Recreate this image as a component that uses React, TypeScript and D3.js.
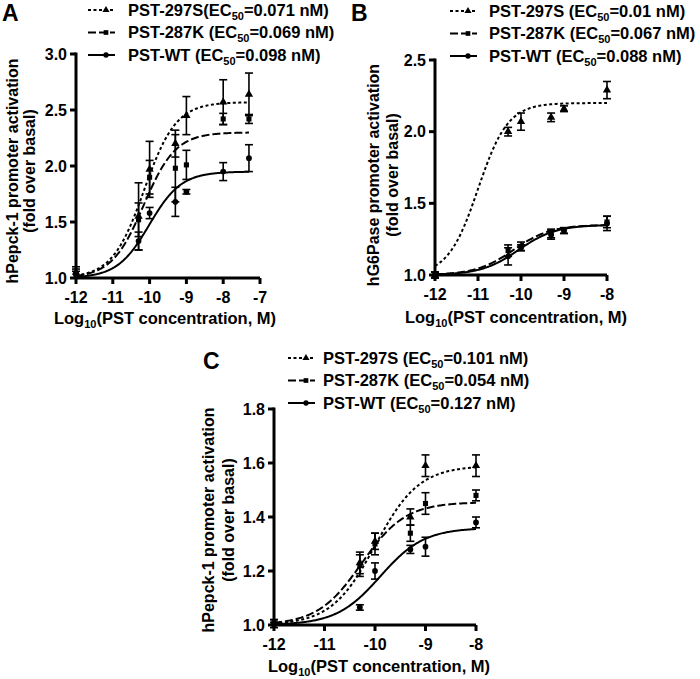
import * as d3 from 'd3';
import React from 'react';

// series, shared by the three panels
const seriesNames = ['PST-297S', 'PST-287K', 'PST-WT'];
const seriesDash = ['3,2.5', '8,3', ''];
const seriesSymbol = [d3.symbolTriangle, d3.symbolSquare, d3.symbolCircle];

// panel A : hPepck-1
const aDoses = [-12, -10.3, -10, -9.3, -9, -8, -7.3];
const a297S = [1.05, 1.55, 1.97, 2.2, 2.45, 2.57, 2.64];
const a297SErr = [0.05, 0.3, 0.25, 0.12, 0.17, 0.2, 0.19];
const a287K = [1.04, 1.52, 1.9, 1.98, 2.01, 2.42, 2.42];
const a287KErr = [0.04, 0.15, 0.15, 0.3, 0.13, 0.05, 0.04];
const aWT = [1.03, 1.33, 1.58, 1.68, 1.77, 1.95, 2.07];
const aWTErr = [0.03, 0.08, 0.05, 0.13, 0.02, 0.08, 0.12];
const aEC50 = ['0.071', '0.069', '0.098'];
const aTop = [2.57, 2.3, 1.95];
const aHill = [1, 1, 1];
const aXTicks = [-12, -11, -10, -9, -8, -7];
const aYTicks = [1.0, 1.5, 2.0, 2.5, 3.0];

// panel B : hG6Pase
const bDoses = [-12, -10.3, -10, -9.3, -9, -8];
const b297S = [1.0, 2.0, 2.07, 2.1, 2.16, 2.29];
const b297SErr = [0.02, 0.03, 0.06, 0.03, 0.02, 0.06];
const b287K = [1.0, 1.17, 1.2, 1.29, 1.31, 1.37];
const b287KErr = [0.02, 0.04, 0.03, 0.03, 0.02, 0.04];
const bWT = [1.0, 1.13, 1.19, 1.28, 1.31, 1.36];
const bWTErr = [0.02, 0.06, 0.02, 0.03, 0.02, 0.05];
const bEC50 = ['0.01', '0.067', '0.088'];
const bTop = [2.2, 1.35, 1.35];
const bHill = [1.25, 1, 1];
const bXTicks = [-12, -11, -10, -9, -8];
const bYTicks = [1.0, 1.5, 2.0, 2.5];

// panel C : hPepck-1
const cDoses = [-12, -10.3, -10, -9.3, -9, -8];
const c297S = [1.01, 1.23, 1.31, 1.4, 1.59, 1.59];
const c297SErr = [0.01, 0.04, 0.03, 0.03, 0.04, 0.04];
const c287K = [1.01, 1.22, 1.3, 1.34, 1.45, 1.48];
const c287KErr = [0.01, 0.04, 0.04, 0.03, 0.04, 0.02];
const cWT = [1.0, 1.065, 1.2, 1.28, 1.29, 1.38];
const cWTErr = [0.01, 0.01, 0.03, 0.015, 0.035, 0.02];
const cEC50 = ['0.101', '0.054', '0.127'];
const cTop = [1.59, 1.455, 1.36];
const cHill = [1, 1, 1];
const cXTicks = [-12, -11, -10, -9, -8];
const cYTicks = [1.0, 1.2, 1.4, 1.6, 1.8];

const FONT = '"Liberation Sans", Arial, sans-serif';

type PanelProps = {
  letter: string;
  letterPos: [number, number];
  frame: { left: number; right: number; top: number; bottom: number };
  xDomain: [number, number];
  yDomain: [number, number];
  xTicks: number[];
  yTicks: number[];
  doses: number[];
  values: number[][];
  errors: number[][];
  ec50: string[];
  tops: number[];
  hills: number[];
  names: string[];
  legend: { lineX: number; textX: number; y: number };
  yLabel: string;
  yLabelX: [number, number];
  yLabelY: number;
  xLabelPos: [number, number];
};

function Panel(p: PanelProps) {
  const x = d3.scaleLinear().domain(p.xDomain).range([p.frame.left, p.frame.right]);
  const y = d3.scaleLinear().domain(p.yDomain).range([p.frame.bottom, p.frame.top]);
  const xMax = p.doses[p.doses.length - 1];

  // 4-parameter logistic fit, bottom = 1
  const curves = p.tops.map((top, i) => {
    const logEC = Math.log10(+p.ec50[i] * 1e-9);
    const pts = d3.range(p.doses[0], xMax + 1e-6, 0.02).map((d) => [
      d,
      1 + (top - 1) / (1 + Math.pow(10, (logEC - d) * p.hills[i])),
    ]);
    return d3.line().x((d) => x(d[0])).y((d) => y(d[1]))(pts as [number, number][]);
  });

  return (
    <g fontFamily={FONT} fontWeight="bold">
      <text x={p.letterPos[0]} y={p.letterPos[1]} fontSize={23}>{p.letter}</text>

      {/* axes */}
      <line x1={x(p.xDomain[0])} x2={x(p.xDomain[1])} y1={p.frame.bottom} y2={p.frame.bottom} stroke="#000" strokeWidth={3} />
      <line x1={p.frame.left} x2={p.frame.left} y1={p.frame.bottom + 1.5} y2={y(p.yDomain[1]) - 1.5} stroke="#000" strokeWidth={3} />
      {p.yTicks.map((t) => (
        <g key={'y' + t}>
          <line x1={p.frame.left - 6} x2={p.frame.left} y1={y(t)} y2={y(t)} stroke="#000" strokeWidth={3} />
          <text x={p.frame.left - 9} y={y(t)} dy="0.36em" textAnchor="end" fontSize={16}>{t.toFixed(1)}</text>
        </g>
      ))}
      {p.xTicks.map((t) => (
        <g key={'x' + t}>
          <line x1={x(t)} x2={x(t)} y1={p.frame.bottom} y2={p.frame.bottom + 6} stroke="#000" strokeWidth={3} />
          <text x={x(t)} y={p.frame.bottom + 25} textAnchor="middle" fontSize={16}>{t}</text>
        </g>
      ))}

      {/* fitted curves */}
      {curves.map((c, i) => (
        <path key={'c' + i} d={c || ''} fill="none" stroke="#000" strokeWidth={2} strokeDasharray={seriesDash[i]} />
      ))}

      {/* points with error bars */}
      {p.values.map((vals, i) => (
        <g key={'s' + i}>
          {vals.map((v, j) => {
            const cx = x(p.doses[j]);
            const e = p.errors[i][j];
            return (
              <g key={j}>
                <line x1={cx} x2={cx} y1={y(v - e)} y2={y(v + e)} stroke="#000" strokeWidth={1.6} />
                <line x1={cx - 4} x2={cx + 4} y1={y(v - e)} y2={y(v - e)} stroke="#000" strokeWidth={1.6} />
                <line x1={cx - 4} x2={cx + 4} y1={y(v + e)} y2={y(v + e)} stroke="#000" strokeWidth={1.6} />
                <path d={d3.symbol().type(seriesSymbol[i]).size(i === 0 ? 30 : 26)() || ''} transform={`translate(${cx},${y(v)})`} fill="#000" />
              </g>
            );
          })}
        </g>
      ))}

      {/* legend */}
      {p.names.map((n, i) => {
        const ly = p.legend.y + i * 22.5;
        return (
          <g key={'l' + i}>
            <line x1={p.legend.lineX} x2={p.legend.lineX + 27} y1={ly} y2={ly} stroke="#000" strokeWidth={2} strokeDasharray={seriesDash[i]} />
            <path d={d3.symbol().type(seriesSymbol[i]).size(22)() || ''} transform={`translate(${p.legend.lineX + 18},${ly})`} fill="#000" />
            <text x={p.legend.textX} y={ly} dy="0.36em" fontSize={16.5}>
              {n}(EC<tspan fontSize={11} dy={4}>50</tspan><tspan dy={-4}>={p.ec50[i]} nM)</tspan>
            </text>
          </g>
        );
      })}

      {/* axis titles */}
      <g transform={`translate(${p.yLabelX[0]},${p.yLabelY}) rotate(-90)`}>
        <text textAnchor="middle" dy="0.36em" fontSize={16}>{p.yLabel}</text>
      </g>
      <g transform={`translate(${p.yLabelX[1]},${p.yLabelY}) rotate(-90)`}>
        <text textAnchor="middle" dy="0.36em" fontSize={16}>(fold over basal)</text>
      </g>
      <text x={p.xLabelPos[0]} y={p.xLabelPos[1]} textAnchor="middle" dy="0.36em" fontSize={16.5}>
        Log<tspan fontSize={11} dy={4}>10</tspan><tspan dy={-4}>(PST concentration, M)</tspan>
      </text>
    </g>
  );
}

export default function App() {
  return (
    <svg width={700} height={679} style={{ position: 'absolute', left: 0, top: 0, background: '#fff' }}>
      <Panel
        letter="A"
        letterPos={[2, 21]}
        frame={{ left: 76, right: 260, top: 54, bottom: 278 }}
        xDomain={[-12, -7]}
        yDomain={[1, 3]}
        xTicks={aXTicks}
        yTicks={aYTicks}
        doses={aDoses}
        values={[a297S, a287K, aWT]}
        errors={[a297SErr, a287KErr, aWTErr]}
        ec50={aEC50}
        tops={aTop}
        hills={aHill}
        names={['PST-297S', 'PST-287K ', 'PST-WT ']}
        legend={{ lineX: 88, textX: 128, y: 10 }}
        yLabel="hPepck-1 promoter activation"
        yLabelX={[12, 29]}
        yLabelY={171}
        xLabelPos={[165, 318]}
      />
      <Panel
        letter="B"
        letterPos={[351, 21]}
        frame={{ left: 435, right: 607, top: 60, bottom: 275 }}
        xDomain={[-12, -8]}
        yDomain={[1, 2.5]}
        xTicks={bXTicks}
        yTicks={bYTicks}
        doses={bDoses}
        values={[b297S, b287K, bWT]}
        errors={[b297SErr, b287KErr, bWTErr]}
        ec50={bEC50}
        tops={bTop}
        hills={bHill}
        names={['PST-297S ', 'PST-287K ', 'PST-WT ']}
        legend={{ lineX: 450, textX: 489, y: 11 }}
        yLabel="hG6Pase promoter activation"
        yLabelX={[373, 392]}
        yLabelY={175}
        xLabelPos={[516, 317]}
      />
      <Panel
        letter="C"
        letterPos={[203, 369]}
        frame={{ left: 274, right: 476, top: 409, bottom: 625 }}
        xDomain={[-12, -8]}
        yDomain={[1, 1.8]}
        xTicks={cXTicks}
        yTicks={cYTicks}
        doses={cDoses}
        values={[c297S, c287K, cWT]}
        errors={[c297SErr, c287KErr, cWTErr]}
        ec50={cEC50}
        tops={cTop}
        hills={cHill}
        names={seriesNames.map((n) => n + ' ')}
        legend={{ lineX: 288, textX: 323, y: 358 }}
        yLabel="hPepck-1 promoter activation"
        yLabelX={[208, 228]}
        yLabelY={520}
        xLabelPos={[379, 666]}
      />
    </svg>
  );
}
